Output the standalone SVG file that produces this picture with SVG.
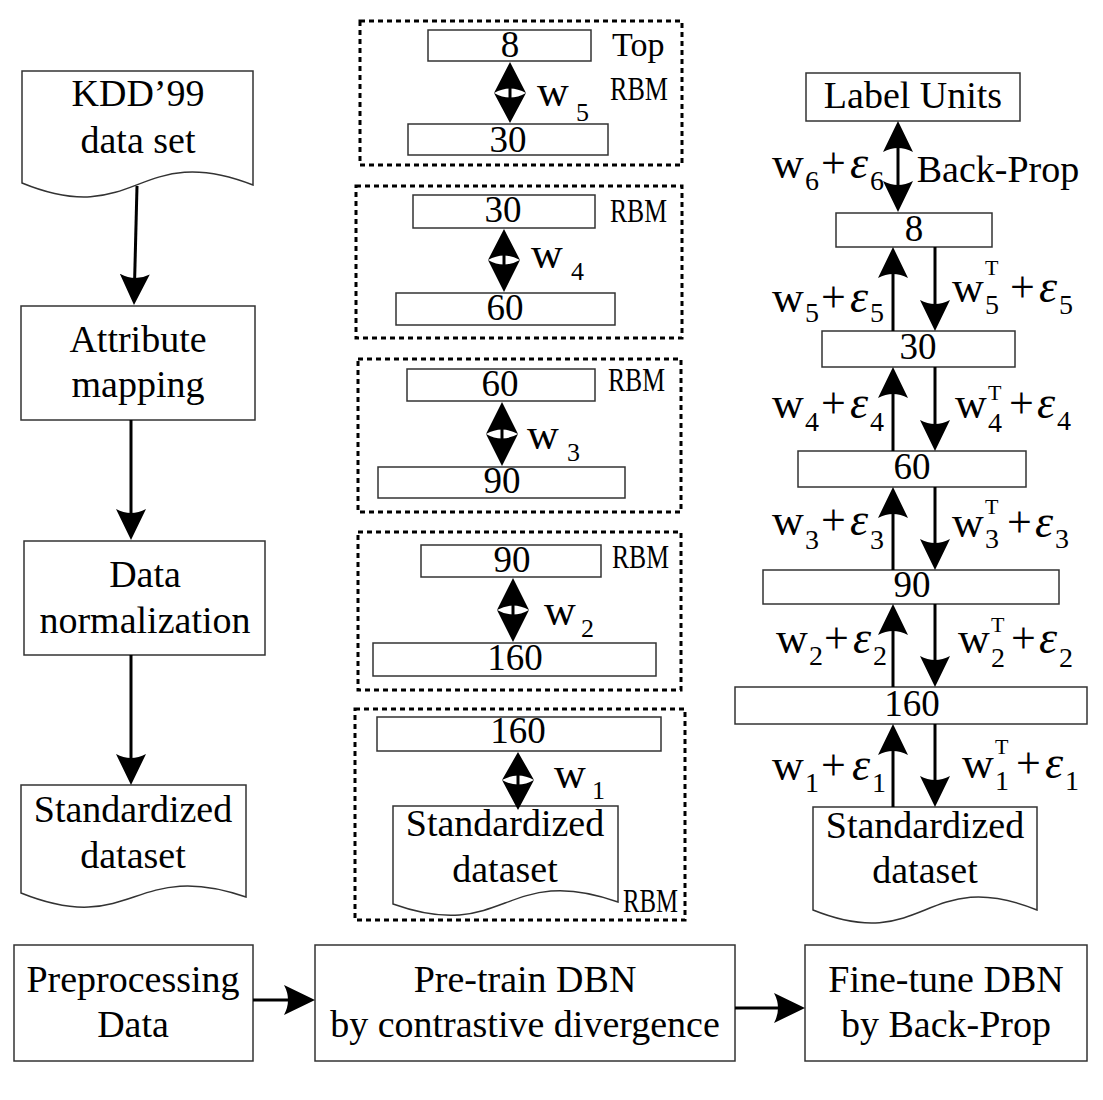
<svg xmlns="http://www.w3.org/2000/svg" width="1103" height="1100" viewBox="0 0 1103 1100">
<defs>
<style>
.box{fill:#fff;stroke:#333;stroke-width:1.5}
.dash{fill:none;stroke:#000;stroke-width:3;stroke-dasharray:5 4}
.t{font-family:"Liberation Serif","Times New Roman",serif;font-size:38px;fill:#000;text-anchor:middle}
.num{font-size:37px}
.rbm{font-family:"Liberation Serif","Times New Roman",serif;font-size:34px;fill:#000}
.m{font-family:"Liberation Serif","Times New Roman",serif;font-size:44px;fill:#000}
.sub{font-size:28px}
.msub{font-size:26px}
.sup{font-size:22px}
.eps{font-style:italic;font-size:46px}
.conn line{stroke:#000;stroke-width:3;fill:none}
.dia{fill:#000}
.dl{stroke:#000;stroke-width:3}
</style>
<marker id="ah" viewBox="0 -16 32 32" markerWidth="32" markerHeight="32" refX="11" refY="0" orient="auto" markerUnits="userSpaceOnUse">
<path d="M31,0 L0,-15 Q8,0 0,15 Z" fill="#000"/>
</marker>
<marker id="ahs" viewBox="0 -16 32 32" markerWidth="32" markerHeight="32" refX="11" refY="0" orient="auto-start-reverse" markerUnits="userSpaceOnUse">
<path d="M31,0 L0,-15 Q8,0 0,15 Z" fill="#000"/>
</marker>
</defs>
<rect width="1103" height="1100" fill="#fff"/>

<!-- Left column -->
<g id="kdd">
<path class="box" d="M22,71 L253,71 L253,185 C137,140 137,230 22,183 Z"/>
<text class="t" x="138" y="106">KDD’99</text>
<text class="t" x="138" y="153">data set</text>
</g>
<g id="attr">
<rect class="box" x="21" y="306" width="234" height="114"/>
<text class="t" x="138" y="352">Attribute</text>
<text class="t" x="138" y="397">mapping</text>
</g>
<g id="norm">
<rect class="box" x="24" y="541" width="241" height="114"/>
<text class="t" x="145" y="587">Data</text>
<text class="t" x="145" y="633">normalization</text>
</g>
<g id="std1">
<path class="box" d="M21,785 L246,785 L246,897 C133,858 133,938 21,893 Z"/>
<text class="t" x="133" y="822">Standardized</text>
<text class="t" x="133" y="868">dataset</text>
</g>

<!-- Middle column -->
<g id="rbm5">
<rect class="dash" x="360" y="21" width="322" height="144"/>
<rect class="box" x="428" y="30" width="163" height="31"/>
<text class="t num" x="510" y="57">8</text>
<rect class="box" x="408" y="124" width="200" height="31"/>
<text class="t num" x="508" y="152">30</text>
<path class="dia" d="M510,62 L526,93 Q510,84 494,93 Z M510,123 L526,93 Q510,102 494,93 Z"/>
<line class="dl" x1="510" y1="87" x2="510" y2="99"/>
<text class="m"><tspan x="537" y="106">w</tspan><tspan class="msub" x="576" y="121">5</tspan></text>
<text class="rbm" x="612" y="56">Top</text>
<text class="rbm" x="610" y="100" textLength="58" lengthAdjust="spacingAndGlyphs">RBM</text>
</g>
<g id="rbm4">
<rect class="dash" x="356" y="186" width="326" height="152"/>
<rect class="box" x="413" y="195" width="182" height="33"/>
<text class="t num" x="503" y="222">30</text>
<rect class="box" x="396" y="293" width="219" height="32"/>
<text class="t num" x="505" y="320">60</text>
<path class="dia" d="M504,229 L520,260 Q504,251 488,260 Z M504,292 L520,260 Q504,269 488,260 Z"/>
<line class="dl" x1="504" y1="254" x2="504" y2="266"/>
<text class="m"><tspan x="531" y="268">w</tspan><tspan class="msub" x="571" y="280">4</tspan></text>
<text class="rbm" x="610" y="222" textLength="57" lengthAdjust="spacingAndGlyphs">RBM</text>
</g>
<g id="rbm3">
<rect class="dash" x="358" y="359" width="323" height="153"/>
<rect class="box" x="407" y="369" width="188" height="32"/>
<text class="t num" x="500" y="396">60</text>
<rect class="box" x="378" y="467" width="247" height="31"/>
<text class="t num" x="502" y="493">90</text>
<path class="dia" d="M502,402 L518,434 Q502,425 486,434 Z M502,466 L518,434 Q502,443 486,434 Z"/>
<line class="dl" x1="502" y1="428" x2="502" y2="440"/>
<text class="m"><tspan x="527" y="449">w</tspan><tspan class="msub" x="567" y="461">3</tspan></text>
<text class="rbm" x="608" y="391" textLength="57" lengthAdjust="spacingAndGlyphs">RBM</text>
</g>
<g id="rbm2">
<rect class="dash" x="358" y="532" width="323" height="158"/>
<rect class="box" x="421" y="545" width="180" height="32"/>
<text class="t num" x="512" y="572">90</text>
<rect class="box" x="373" y="643" width="283" height="33"/>
<text class="t num" x="515" y="670">160</text>
<path class="dia" d="M513,578 L529,610 Q513,601 497,610 Z M513,642 L529,610 Q513,619 497,610 Z"/>
<line class="dl" x1="513" y1="604" x2="513" y2="616"/>
<text class="m"><tspan x="544" y="625">w</tspan><tspan class="msub" x="581" y="637">2</tspan></text>
<text class="rbm" x="612" y="568" textLength="57" lengthAdjust="spacingAndGlyphs">RBM</text>
</g>
<g id="rbm1">
<rect class="dash" x="355" y="709" width="330" height="211"/>
<rect class="box" x="377" y="717" width="284" height="34"/>
<text class="t num" x="518" y="743">160</text>
<path class="box" d="M393,806 L618,806 L618,902 C505,862 505,944 393,904 Z"/>
<path class="dia" d="M518,752 L534,780 Q518,771 502,780 Z M518,810 L534,780 Q518,789 502,780 Z"/>
<line class="dl" x1="518" y1="774" x2="518" y2="786"/>
<text class="m"><tspan x="554" y="788">w</tspan><tspan class="msub" x="592" y="799">1</tspan></text>
<text class="t" x="505" y="836">Standardized</text>
<text class="t" x="505" y="882">dataset</text>
<text class="rbm" x="623" y="912" textLength="55" lengthAdjust="spacingAndGlyphs">RBM</text>
</g>

<!-- Right column -->
<g id="label">
<rect class="box" x="806" y="73" width="214" height="48"/>
<text class="t" x="913" y="108">Label Units</text>
</g>
<g id="r8">
<rect class="box" x="836" y="213" width="156" height="34"/>
<text class="t num" x="914" y="241">8</text>
</g>
<g id="r30">
<rect class="box" x="822" y="331" width="193" height="36"/>
<text class="t num" x="918" y="359">30</text>
</g>
<g id="r60">
<rect class="box" x="798" y="451" width="228" height="36"/>
<text class="t num" x="912" y="479">60</text>
</g>
<g id="r90">
<rect class="box" x="763" y="570" width="296" height="34"/>
<text class="t num" x="912" y="597">90</text>
</g>
<g id="r160">
<rect class="box" x="735" y="687" width="352" height="37"/>
<text class="t num" x="912" y="716">160</text>
</g>
<g id="std3">
<path class="box" d="M813,807 L1037,807 L1037,910 C925,865 925,955 813,910 Z"/>
<text class="t" x="925" y="838">Standardized</text>
<text class="t" x="925" y="883">dataset</text>
</g>

<!-- Bottom row -->
<g id="pre">
<rect class="box" x="14" y="945" width="239" height="116"/>
<text class="t" x="133" y="992">Preprocessing</text>
<text class="t" x="133" y="1037">Data</text>
</g>
<g id="pretrain">
<rect class="box" x="315" y="945" width="420" height="116"/>
<text class="t" x="525" y="992">Pre-train DBN</text>
<text class="t" x="525" y="1037">by contrastive divergence</text>
</g>
<g id="fine">
<rect class="box" x="805" y="945" width="282" height="116"/>
<text class="t" x="946" y="992">Fine-tune DBN</text>
<text class="t" x="946" y="1037">by Back-Prop</text>
</g>

<!-- Connectors -->
<g class="conn" id="connectors">
<line x1="137" y1="186" x2="134.5" y2="285" marker-end="url(#ah)"/>
<line x1="131" y1="420" x2="131" y2="520" marker-end="url(#ah)"/>
<line x1="131" y1="655" x2="131" y2="765" marker-end="url(#ah)"/>
<line x1="898" y1="141" x2="898" y2="192" marker-start="url(#ahs)" marker-end="url(#ah)"/>
<line x1="893" y1="331" x2="893" y2="267" marker-end="url(#ah)"/>
<line x1="935" y1="247" x2="935" y2="311" marker-end="url(#ah)"/>
<line x1="893" y1="451" x2="893" y2="387" marker-end="url(#ah)"/>
<line x1="935" y1="367" x2="935" y2="431" marker-end="url(#ah)"/>
<line x1="893" y1="570" x2="893" y2="507" marker-end="url(#ah)"/>
<line x1="935" y1="487" x2="935" y2="550" marker-end="url(#ah)"/>
<line x1="893" y1="687" x2="893" y2="624" marker-end="url(#ah)"/>
<line x1="935" y1="604" x2="935" y2="667" marker-end="url(#ah)"/>
<line x1="893" y1="807" x2="893" y2="744" marker-end="url(#ah)"/>
<line x1="935" y1="724" x2="935" y2="787" marker-end="url(#ah)"/>
<line x1="253" y1="1000" x2="295" y2="1000" marker-end="url(#ah)"/>
<line x1="735" y1="1008" x2="785" y2="1008" marker-end="url(#ah)"/>
</g>

<!-- Connector labels -->
<g id="labels">
<text class="m"><tspan x="772" y="178">w</tspan><tspan class="sub" x="805" y="190">6</tspan><tspan x="821" y="178">+</tspan><tspan class="eps" x="850" y="178">ε</tspan><tspan class="sub" x="870" y="190">6</tspan></text>
<text class="t" x="998" y="182">Back-Prop</text>
<text class="m"><tspan x="772" y="312">w</tspan><tspan class="sub" x="805" y="322">5</tspan><tspan x="821" y="312">+</tspan><tspan class="eps" x="850" y="312">ε</tspan><tspan class="sub" x="870" y="322">5</tspan></text>
<text class="m"><tspan x="952" y="302">w</tspan><tspan class="sup" x="985" y="275">T</tspan><tspan class="sub" x="985" y="314">5</tspan><tspan x="1010" y="302">+</tspan><tspan class="eps" x="1039" y="302">ε</tspan><tspan class="sub" x="1059" y="314">5</tspan></text>
<text class="m"><tspan x="772" y="418">w</tspan><tspan class="sub" x="805" y="431">4</tspan><tspan x="821" y="418">+</tspan><tspan class="eps" x="850" y="418">ε</tspan><tspan class="sub" x="870" y="431">4</tspan></text>
<text class="m"><tspan x="955" y="418">w</tspan><tspan class="sup" x="988" y="400">T</tspan><tspan class="sub" x="988" y="432">4</tspan><tspan x="1009" y="418">+</tspan><tspan class="eps" x="1037" y="418">ε</tspan><tspan class="sub" x="1057" y="430">4</tspan></text>
<text class="m"><tspan x="772" y="535">w</tspan><tspan class="sub" x="805" y="549">3</tspan><tspan x="821" y="535">+</tspan><tspan class="eps" x="850" y="535">ε</tspan><tspan class="sub" x="870" y="549">3</tspan></text>
<text class="m"><tspan x="952" y="537">w</tspan><tspan class="sup" x="985" y="514">T</tspan><tspan class="sub" x="985" y="548">3</tspan><tspan x="1007" y="537">+</tspan><tspan class="eps" x="1035" y="537">ε</tspan><tspan class="sub" x="1055" y="548">3</tspan></text>
<text class="m"><tspan x="776" y="653">w</tspan><tspan class="sub" x="809" y="665">2</tspan><tspan x="824" y="653">+</tspan><tspan class="eps" x="853" y="653">ε</tspan><tspan class="sub" x="873" y="665">2</tspan></text>
<text class="m"><tspan x="958" y="653">w</tspan><tspan class="sup" x="991" y="632">T</tspan><tspan class="sub" x="991" y="667">2</tspan><tspan x="1011" y="653">+</tspan><tspan class="eps" x="1039" y="653">ε</tspan><tspan class="sub" x="1059" y="667">2</tspan></text>
<text class="m"><tspan x="772" y="780">w</tspan><tspan class="sub" x="805" y="792">1</tspan><tspan x="821" y="780">+</tspan><tspan class="eps" x="852" y="780">ε</tspan><tspan class="sub" x="872" y="792">1</tspan></text>
<text class="m"><tspan x="962" y="778">w</tspan><tspan class="sup" x="995" y="754">T</tspan><tspan class="sub" x="995" y="790">1</tspan><tspan x="1016" y="778">+</tspan><tspan class="eps" x="1045" y="778">ε</tspan><tspan class="sub" x="1065" y="790">1</tspan></text>
</g>
</svg>
